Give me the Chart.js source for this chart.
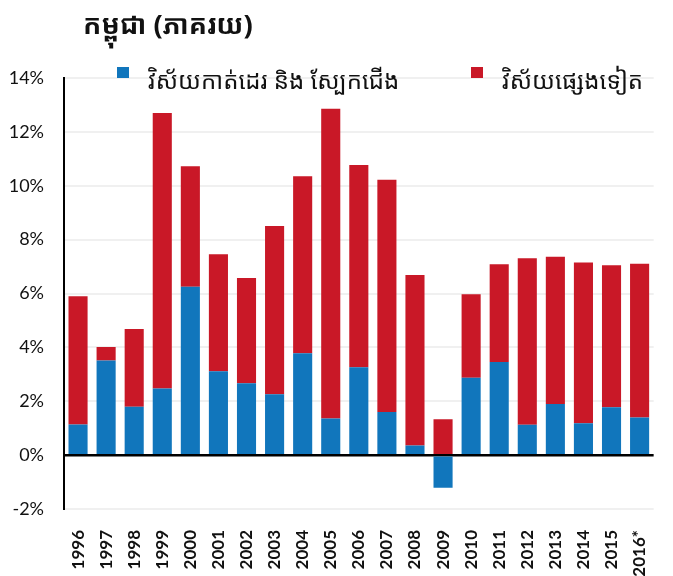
<!DOCTYPE html>
<html>
<head>
<meta charset="utf-8">
<script src="https://cdn.jsdelivr.net/npm/chart.js@4/dist/chart.umd.min.js"></script>
<style>
  body { margin: 0; background: #fff; }
  #wrap { width: 673px; height: 576px; }
</style>
</head>
<body>
<div id="wrap"><canvas id="chart" width="673" height="576"></canvas></div>
<script>
const titleText = 'កម្ពុជា (ភាគរយ)';
const years = ['1996', '1997', '1998', '1999', '2000', '2001', '2002', '2003', '2004', '2005', '2006',
  '2007', '2008', '2009', '2010', '2011', '2012', '2013', '2014', '2015', '2016*'];
const garmentLabel = 'វិស័យកាត់ដេរ និង ស្បែកជើង';
const otherLabel = 'វិស័យផ្សេងទៀត';
const garment = [1.14, 3.51, 1.80, 2.47, 6.25, 3.11, 2.67, 2.26, 3.78, 1.36, 3.26,
  1.60, 0.36, -1.21, 2.87, 3.46, 1.13, 1.90, 1.18, 1.78, 1.40];
const other = [4.76, 0.50, 2.88, 10.23, 4.47, 4.35, 3.91, 6.25, 6.57, 11.50, 7.51,
  8.62, 6.33, 1.33, 3.10, 3.63, 6.18, 5.46, 5.97, 5.27, 5.70];
const yTicks = [-2, 0, 2, 4, 6, 8, 10, 12, 14];

const khmerFont = '"Noto Sans Khmer", "Khmer OS", "Noto Sans", sans-serif';

// title and legend sit above / over the top of the plot, so draw them by hand
const headerPlugin = {
  id: 'header',
  afterDraw(chart) {
    const ctx = chart.ctx;
    ctx.save();
    ctx.fillStyle = '#111';
    ctx.textBaseline = 'alphabetic';
    ctx.font = 'bold 27px ' + khmerFont;
    ctx.fillText(titleText, 83, 34);
    ctx.font = '24px ' + khmerFont;
    chart.data.datasets.forEach((ds, i) => {
      const x = i === 0 ? 117 : 471;
      ctx.fillStyle = ds.backgroundColor;
      ctx.fillRect(x, 67, 12, 11);
      ctx.fillStyle = '#111';
      ctx.fillText(ds.label, x + 31, 89);
    });
    ctx.restore();
  }
};

const ctx = document.getElementById('chart').getContext('2d');
new Chart(ctx, {
  type: 'bar',
  data: {
    labels: years,
    datasets: [
      { label: garmentLabel, data: garment, backgroundColor: '#1176bc', borderWidth: 0 },
      { label: otherLabel, data: other, backgroundColor: '#c91827', borderWidth: 0 }
    ]
  },
  options: {
    responsive: false,
    animation: false,
    layout: { padding: { top: 78, left: 8, right: 0, bottom: 0 } },
    categoryPercentage: 0.68,
    barPercentage: 1.0,
    plugins: {
      legend: { display: false },
      tooltip: { enabled: false }
    },
    scales: {
      x: {
        stacked: true,
        afterFit(scale) { scale.height = 67; },
        grid: { display: false },
        border: { display: false },
        ticks: {
          minRotation: 90,
          maxRotation: 90,
          autoSkip: false,
          padding: 13,
          color: '#111',
          font: { family: 'Lato', size: 17, weight: 'bold' }
        }
      },
      y: {
        stacked: true,
        min: -2,
        max: 14,
        afterFit(scale) { scale.width = 56; },
        afterBuildTicks(scale) { scale.ticks = yTicks.map(v => ({ value: v })); },
        grid: {
          color: c => c.tick && c.tick.value === 0 ? '#000' : '#f0f0f0',
          lineWidth: c => c.tick && c.tick.value === 0 ? 2.5 : 2,
          drawTicks: false
        },
        border: { display: true, color: '#000', width: 2 },
        ticks: {
          padding: 20,
          color: '#111',
          font: { family: 'Lato', size: 18 },
          callback: v => v + '%'
        }
      }
    }
  },
  plugins: [headerPlugin]
});
</script>
</body>
</html>
